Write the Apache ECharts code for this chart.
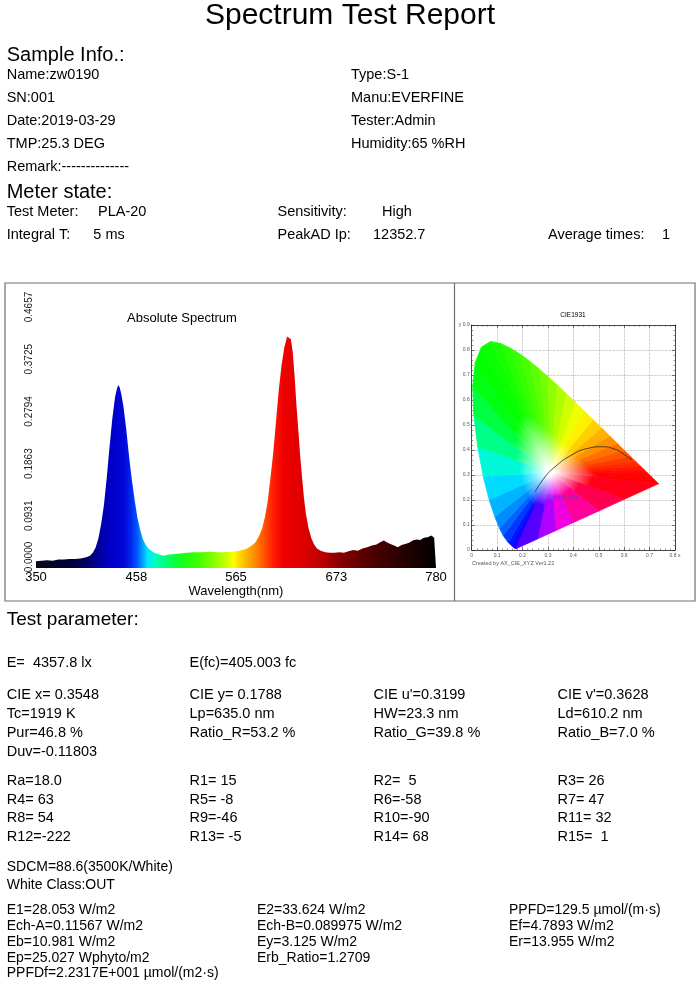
<!DOCTYPE html>
<html>
<head>
<meta charset="utf-8">
<title>Spectrum Test Report</title>
<script src="https://cdn.jsdelivr.net/npm/echarts@6.0.0/dist/echarts.min.js"></script>
<style>
  html, body { margin: 0; padding: 0; background: #fff; }
  #main { width: 698px; height: 990px; }
</style>
</head>
<body>
<div id="main"></div>
<script>
// ---- report text ----
var sampleLeft = ['Name:zw0190', 'SN:001', 'Date:2019-03-29', 'TMP:25.3 DEG', 'Remark:--------------'];
var sampleRight = ['Type:S-1', 'Manu:EVERFINE', 'Tester:Admin', 'Humidity:65 %RH'];
var meterRow1 = ['Test Meter:', 'PLA-20', 'Sensitivity:', 'High'];
var meterRow2 = ['Integral T:', '5 ms', 'PeakAD Ip:', '12352.7', 'Average times:', '1'];
var illumRow = ['E=  4357.8 lx', 'E(fc)=405.003 fc'];
var colorRows = [
  ['CIE x= 0.3548', 'CIE y= 0.1788', "CIE u'=0.3199", "CIE v'=0.3628"],
  ['Tc=1919 K', 'Lp=635.0 nm', 'HW=23.3 nm', 'Ld=610.2 nm'],
  ['Pur=46.8 %', 'Ratio_R=53.2 %', 'Ratio_G=39.8 %', 'Ratio_B=7.0 %'],
  ['Duv=-0.11803']
];
var renderRows = [
  ['Ra=18.0', 'R1= 15', 'R2=  5', 'R3= 26'],
  ['R4= 63', 'R5= -8', 'R6=-58', 'R7= 47'],
  ['R8= 54', 'R9=-46', 'R10=-90', 'R11= 32'],
  ['R12=-222', 'R13= -5', 'R14= 68', 'R15=  1']
];
var sdcmRows = ['SDCM=88.6(3500K/White)', 'White Class:OUT'];
var energyCols = [
  ['E1=28.053 W/m2', 'Ech-A=0.11567 W/m2', 'Eb=10.981 W/m2', 'Ep=25.027 Wphyto/m2', 'PPFDf=2.2317E+001 \u00b5mol/(m2\u00b7s)'],
  ['E2=33.624 W/m2', 'Ech-B=0.089975 W/m2', 'Ey=3.125 W/m2', 'Erb_Ratio=1.2709'],
  ['PPFD=129.5 \u00b5mol/(m\u00b7s)', 'Ef=4.7893 W/m2', 'Er=13.955 W/m2']
];

// ---- absolute spectrum (wavelength nm, value) ----
var specWave = [350, 356, 362, 368, 374, 380, 386, 392, 398, 404, 408, 411, 414, 417, 420, 423, 426, 429, 432, 435, 437, 438.5, 440, 442, 444, 447, 450, 453, 456, 459, 462, 465, 468, 471, 476, 481, 487, 493, 499, 505, 512, 520, 528, 536, 544, 552, 560, 566, 572, 577, 582, 586, 590, 593, 596, 599, 602, 605, 608, 611, 614, 617, 620, 622, 624, 626, 628, 630, 632, 634, 636, 638, 640, 643, 646, 649, 652, 656, 661, 666, 671, 676, 681, 686, 691, 696, 701, 706, 711, 716, 720, 724, 727, 731, 735, 739, 743, 747, 751, 755, 759, 763, 767, 771, 775, 778, 780];
var specValue = [0.012, 0.013, 0.014, 0.013, 0.015, 0.015, 0.016, 0.016, 0.017, 0.019, 0.022, 0.027, 0.036, 0.052, 0.078, 0.112, 0.160, 0.215, 0.266, 0.305, 0.320, 0.3265, 0.322, 0.308, 0.288, 0.248, 0.200, 0.158, 0.122, 0.090, 0.068, 0.051, 0.041, 0.035, 0.028, 0.025, 0.022, 0.024, 0.025, 0.026, 0.027, 0.028, 0.028, 0.029, 0.028, 0.028, 0.029, 0.030, 0.032, 0.035, 0.040, 0.046, 0.058, 0.070, 0.090, 0.118, 0.160, 0.205, 0.262, 0.318, 0.362, 0.394, 0.413, 0.4157, 0.408, 0.385, 0.342, 0.290, 0.246, 0.200, 0.162, 0.126, 0.098, 0.071, 0.053, 0.042, 0.035, 0.031, 0.028, 0.027, 0.027, 0.028, 0.027, 0.030, 0.032, 0.031, 0.035, 0.037, 0.040, 0.042, 0.046, 0.049, 0.046, 0.043, 0.040, 0.037, 0.041, 0.043, 0.045, 0.049, 0.051, 0.050, 0.054, 0.055, 0.058, 0.054, 0.057];
var specTicksX = [350, 458, 565, 673, 780];
var specTicksY = [0, 0.0931, 0.1863, 0.2794, 0.3725, 0.4657];
// colour of the fill along the wavelength axis
var specColorWave = [350, 385, 405, 418, 430, 445, 452, 458, 464, 470, 478, 490, 505, 525, 545, 556, 562, 572, 584, 596, 606, 616, 635, 655, 680, 710, 740, 780];
var specColor = ['#06061a', '#000034', '#000062', '#0000a0', '#0000c8', '#0008d8', '#0028f0', '#0050ff', '#0098ff', '#00e8ff', '#00ffc0', '#00ff70', '#10ff20', '#40ff00', '#98ff00', '#d0ff00', '#ffff00', '#ffc800', '#ff9000', '#ff5000', '#ff1800', '#f00000', '#e00000', '#c00000', '#800000', '#500000', '#2c0000', '#000000'];

// ---- CIE 1931 ----
var locusX = [0.1741, 0.1714, 0.1644, 0.1566, 0.1440, 0.1241, 0.1096, 0.0913, 0.0687, 0.0454, 0.0235, 0.0082, 0.0039, 0.0139, 0.0389, 0.0743, 0.1142, 0.1547, 0.1929, 0.2296, 0.2658, 0.3016, 0.3373, 0.3731, 0.4087, 0.4441, 0.4788, 0.5125, 0.5448, 0.5752, 0.6029, 0.6270, 0.6482, 0.6658, 0.6801, 0.6915, 0.7006, 0.7079, 0.7190, 0.7347, 0.60, 0.50, 0.40, 0.33, 0.26];
var locusY = [0.0050, 0.0051, 0.0109, 0.0177, 0.0297, 0.0578, 0.0868, 0.1327, 0.2007, 0.2950, 0.4127, 0.5384, 0.6548, 0.7502, 0.8120, 0.8338, 0.8262, 0.8059, 0.7816, 0.7543, 0.7243, 0.6923, 0.6589, 0.6245, 0.5896, 0.5547, 0.5202, 0.4866, 0.4544, 0.4242, 0.3965, 0.3725, 0.3514, 0.3340, 0.3197, 0.3083, 0.2993, 0.2920, 0.2809, 0.2653, 0.2027, 0.1563, 0.1099, 0.0774, 0.0449];
var locusColor = ['#2a00ff', '#2000ff', '#1000ff', '#0008ff', '#0020ff', '#0050ff', '#0078ff', '#00a0ff', '#00c8ff', '#00f0ff', '#00ffb0', '#00ff60', '#00ff20', '#00ff00', '#08ff00', '#10ff00', '#20ff00', '#30ff00', '#40ff00', '#50ff00', '#68ff00', '#80ff00', '#a0ff00', '#c0ff00', '#e0ff00', '#ffff00', '#ffe000', '#ffc000', '#ffa000', '#ff8000', '#ff6000', '#ff4800', '#ff3000', '#ff2000', '#ff1000', '#ff0800', '#ff0000', '#ff0000', '#ff0000', '#ff0000', '#ff0030', '#ff0070', '#ff00c0', '#e000ff', '#8000ff'];
var whitePoint = [0.31, 0.31];
var planckX = [0.249, 0.289, 0.328, 0.393, 0.459, 0.511, 0.564, 0.603, 0.630];
var planckY = [0.233, 0.293, 0.333, 0.380, 0.407, 0.413, 0.403, 0.380, 0.360];
var samplePoint = [0.3548, 0.1788];

var FONT = '"Liberation Sans", Arial, sans-serif';

function txt(x, y, s, size, align) {
  return {
    type: 'text', x: x, y: y, silent: true,
    style: { text: s, fontSize: size, fontFamily: FONT, fill: '#000', align: align || 'left', verticalAlign: 'middle' }
  };
}

function mix(a, b) {
  var p = function (h, i) { return parseInt(h.substr(i, 2), 16); };
  var out = '#';
  for (var i = 1; i < 7; i += 2) {
    var v = Math.round((p(a, i) + p(b, i)) / 2).toString(16);
    out += v.length < 2 ? '0' + v : v;
  }
  return out;
}

var texts = [];
texts.push(txt(350, 16, 'Spectrum Test Report', 30, 'center'));
texts.push(txt(6.7, 55.8, 'Sample Info.:', 20));
sampleLeft.forEach(function (s, i) { texts.push(txt(6.7, 74.5 + 23.1 * i, s, 14.5)); });
sampleRight.forEach(function (s, i) { texts.push(txt(351, 74.5 + 23.1 * i, s, 14.5)); });
texts.push(txt(6.7, 192, 'Meter state:', 20));
var meterX1 = [6.7, 98, 277.5, 382];
var meterX2 = [6.7, 93.3, 277.5, 373, 548, 662];
meterRow1.forEach(function (s, i) { texts.push(txt(meterX1[i], 211.5, s, 14.5)); });
meterRow2.forEach(function (s, i) { texts.push(txt(meterX2[i], 234.5, s, 14.5)); });

texts.push(txt(182, 318, 'Absolute Spectrum', 13, 'center'));
texts.push(txt(573, 315, 'CIE1931', 6.5, 'center'));
texts.push({ type: 'text', x: 472, y: 563, silent: true,
  style: { text: 'Created by AX_CIE_XYZ Ver1.22', fontSize: 5.5, fontFamily: FONT, fill: '#555', align: 'left', verticalAlign: 'middle' } });

texts.push(txt(6.7, 620, 'Test parameter:', 19));
var colX = [6.7, 189.5, 373.5, 557.5];
illumRow.forEach(function (s, i) { texts.push(txt(colX[i], 662.5, s, 14.5)); });
colorRows.forEach(function (row, r) {
  row.forEach(function (s, i) { texts.push(txt(colX[i], 694.5 + 19.3 * r, s, 14.5)); });
});
renderRows.forEach(function (row, r) {
  row.forEach(function (s, i) { texts.push(txt(colX[i], 781 + 18.7 * r, s, 14.5)); });
});
sdcmRows.forEach(function (s, r) { texts.push(txt(6.7, 867 + 18 * r, s, 14)); });
var energyX = [6.7, 257, 509];
energyCols.forEach(function (col, c) {
  col.forEach(function (s, r) { texts.push(txt(energyX[c], 910.3 + 15.8 * r, s, 14)); });
});

// frame round the two plots
texts.push({ type: 'rect', silent: true, shape: { x: 5, y: 283, width: 690, height: 318 },
  style: { fill: 'none', stroke: '#6f6f6f', lineWidth: 1.2 } });
texts.push({ type: 'line', silent: true, shape: { x1: 454.5, y1: 283, x2: 454.5, y2: 601 },
  style: { stroke: '#6f6f6f', lineWidth: 1.2 } });

var specStops = specColorWave.map(function (w, i) {
  return { offset: (w - 350) / 430, color: specColor[i] };
});

var n = locusX.length;
var segments = locusX.map(function (x, i) {
  var j = (i + 1) % n;
  return [x, locusY[i], locusX[j], locusY[j]];
});

var chart = echarts.init(document.getElementById('main'));

var cieTick = { show: true, inside: true, length: 3, lineStyle: { color: '#222', width: 0.6 } };
var cieMinor = { show: true, splitNumber: 5, length: 1.6, lineStyle: { color: '#333', width: 0.5 } };
var cieLine = { show: true, onZero: false, lineStyle: { color: '#222', width: 0.8 } };

chart.setOption({
  animation: false,
  backgroundColor: '#fff',
  graphic: texts,
  grid: [
    { left: 36, top: 307, width: 400, height: 261, outerBoundsMode: 'none' },
    { left: 471.7, top: 325, width: 203.3, height: 225, outerBoundsMode: 'none' }
  ],
  xAxis: [
    {
      gridIndex: 0, type: 'value', min: 350, max: 780,
      axisLine: { show: false }, axisTick: { show: false }, splitLine: { show: false },
      axisLabel: { customValues: specTicksX, fontSize: 13, fontFamily: FONT, color: '#000', margin: 3 },
      name: 'Wavelength(nm)', nameLocation: 'middle', nameGap: 15,
      nameTextStyle: { fontSize: 13, fontFamily: FONT, color: '#000' }
    },
    {
      gridIndex: 1, type: 'value', min: 0, max: 0.8, interval: 0.1, position: 'bottom',
      axisLine: cieLine, axisTick: cieTick, minorTick: cieMinor,
      splitLine: { show: true, lineStyle: { color: '#9a9a9a', type: 'dotted', width: 0.7 } },
      axisLabel: { fontSize: 5, fontFamily: FONT, color: '#555', margin: 3,
        formatter: function (v) { return v === 0 ? '0' : (v > 0.79 ? '0.8 x' : v.toFixed(1)); } }
    },
    {
      gridIndex: 1, type: 'value', min: 0, max: 0.8, interval: 0.1, position: 'top',
      axisLine: cieLine, axisTick: cieTick, minorTick: cieMinor,
      splitLine: { show: false }, axisLabel: { show: false }
    }
  ],
  yAxis: [
    {
      gridIndex: 0, type: 'value', min: 0, max: 0.4657,
      axisLine: { show: false }, axisTick: { show: false }, splitLine: { show: false },
      axisLabel: {
        customValues: specTicksY, rotate: 90, fontSize: 10, fontFamily: FONT, color: '#222', margin: 2,
        formatter: function (v) { return v === 0 ? '{z|0.0000}' : v.toFixed(4); },
        rich: { z: { fontSize: 10, fontFamily: FONT, color: '#222', padding: [0, 0, 0, 22] } }
      }
    },
    {
      gridIndex: 1, type: 'value', min: 0, max: 0.9, interval: 0.1, position: 'left',
      axisLine: cieLine, axisTick: cieTick, minorTick: cieMinor,
      splitLine: { show: true, lineStyle: { color: '#9a9a9a', type: 'dotted', width: 0.7 } },
      axisLabel: { fontSize: 5, fontFamily: FONT, color: '#555', margin: 2,
        formatter: function (v) { return v === 0 ? '0' : (v > 0.89 ? 'y 0.9' : v.toFixed(1)); } }
    },
    {
      gridIndex: 1, type: 'value', min: 0, max: 0.9, interval: 0.1, position: 'right',
      axisLine: cieLine, axisTick: cieTick, minorTick: cieMinor,
      splitLine: { show: false }, axisLabel: { show: false }
    }
  ],
  series: [
    {
      type: 'line', xAxisIndex: 0, yAxisIndex: 0, silent: true,
      data: specWave.map(function (w, i) { return [w, specValue[i]]; }),
      showSymbol: false, symbol: 'none',
      lineStyle: { width: 0 },
      areaStyle: { opacity: 1, color: new echarts.graphic.LinearGradient(0, 0, 1, 0, specStops) }
    },
    {
      type: 'custom', xAxisIndex: 1, yAxisIndex: 1, silent: true,
      data: segments,
      encode: { x: [0, 2], y: [1, 3] },
      renderItem: function (params, api) {
        var i = params.dataIndex;
        var w = api.coord(whitePoint);
        var a = api.coord([api.value(0), api.value(1)]);
        var b = api.coord([api.value(2), api.value(3)]);
        var m = [(a[0] + b[0]) / 2, (a[1] + b[1]) / 2];
        var c = mix(locusColor[i], locusColor[(i + 1) % n]);
        var grad = new echarts.graphic.LinearGradient(w[0], w[1], m[0], m[1], [
          { offset: 0, color: '#ffffff' },
          { offset: 0.04, color: '#ffffff' },
          { offset: 0.45, color: c },
          { offset: 1, color: c }
        ], true);
        return {
          type: 'polygon',
          shape: { points: [w, a, b] },
          style: { fill: grad, stroke: grad, lineWidth: 0.8 }
        };
      }
    },
    {
      type: 'line', xAxisIndex: 1, yAxisIndex: 1, silent: true, smooth: true,
      data: planckX.map(function (x, i) { return [x, planckY[i]]; }),
      symbol: 'none', lineStyle: { color: '#222', width: 0.8 }, z: 5
    },
    {
      type: 'scatter', xAxisIndex: 1, yAxisIndex: 1, silent: true,
      data: [samplePoint], symbol: 'circle', symbolSize: 2.5,
      itemStyle: { color: '#6a3fb5' }, z: 6,
      label: { show: true, position: 'top', distance: 4, fontSize: 5, fontFamily: FONT, color: '#5a3fc0',
        formatter: function (p) { return p.value[0] + ',' + p.value[1]; } }
    }
  ]
});
</script>
</body>
</html>
